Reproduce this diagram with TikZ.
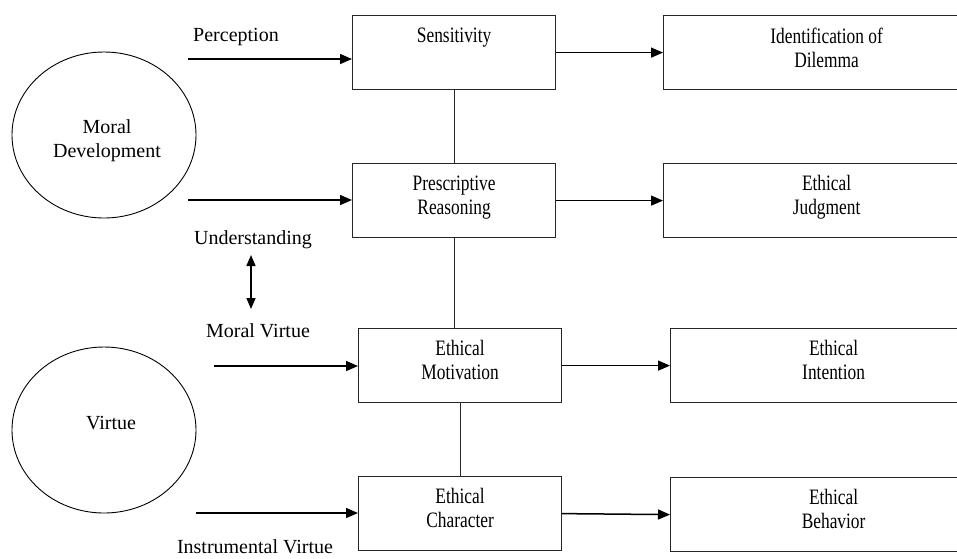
\documentclass[tikz,border=0pt]{standalone}
\usepackage{fontspec}
\setmainfont{Liberation Serif}
\newfontfamily\boxfont{Liberation Serif}[FakeStretch=0.79]
\usetikzlibrary{arrows.meta,shapes.geometric}
\newcommand{\lbox}[1]{\parbox[t][74pt][t]{203pt}{\centering\boxfont\fontsize{22pt}{24pt}\selectfont\vspace*{12pt}#1}}
\newcommand{\rbox}[1]{\parbox[t][74pt][t]{206pt}{\centering\boxfont\fontsize{22pt}{24pt}\selectfont\vspace*{12pt}#1}\hspace{120pt}}
\tikzset{
  every node/.style={font=\fontsize{20pt}{24pt}\selectfont},
  stagebox/.style={draw=black!85, line width=1.2pt, anchor=north west, inner sep=0pt, minimum width=203pt, minimum height=74pt},
  outbox/.style={draw=black!85, line width=1.2pt, anchor=north west, inner sep=0pt, minimum width=326pt, minimum height=74pt},
  oval/.style={draw, ellipse, line width=0.9pt, minimum width=184pt, minimum height=166pt, inner sep=0pt},
  lbl/.style={anchor=base, inner sep=0pt, align=center},
  arr/.style={line width=1.5pt, -{Triangle[length=12pt,width=10pt]}},
  dbl/.style={line width=1.5pt, {Triangle[length=11pt,width=9pt]}-{Triangle[length=11pt,width=9pt]}},
  link/.style={line width=1.2pt, draw=black!85}
}
\begin{document}
\begin{tikzpicture}[x=1pt,y=-1pt]
\clip (0,0) rectangle (957,558);
% ellipses
\node[oval] (md) at (104,135) {};
\node[lbl] (mdT) at (107,133) {Moral};
\node[lbl] (mdT2) at (107,157) {Development};
\node[oval] (vi) at (104,430) {};
\node[lbl] (viT) at (111,429) {Virtue};
% stage boxes
\node[stagebox] (sens) at (352,15) {\lbox{Sensitivity}};
\node[stagebox] (pres) at (352,163) {\lbox{Prescriptive\\Reasoning}};
\node[stagebox] (motiv) at (358,328) {\lbox{Ethical\\Motivation}};
\node[stagebox] (char) at (358,476) {\lbox{Ethical\\Character}};
% outcome boxes
\node[outbox] (ident) at (663,15) {\rbox{Identification of\\Dilemma}};
\node[outbox] (judg) at (663,163) {\rbox{Ethical\\Judgment}};
\node[outbox] (inten) at (670,328) {\rbox{Ethical\\Intention}};
\node[outbox] (behav) at (670,477) {\rbox{Ethical\\Behavior}};
% labels
\node[lbl] (perc) at (236,41) {Perception};
\node[lbl] (und) at (253,244) {Understanding};
\node[lbl] (mv) at (258,337) {Moral Virtue};
\node[lbl] (iv) at (255,553) {Instrumental Virtue};
% free ends
\coordinate (p1) at (188,59);
\coordinate (p2) at (188,200);
\coordinate (p3) at (214,366);
\coordinate (p4) at (196,513);
\coordinate (u1) at (251,255);
\coordinate (u2) at (251,309);
% connectors
\draw[arr] (p1) -- (p1 -| sens.west);
\draw[arr] (p2) -- (p2 -| pres.west);
\draw[arr] (p3) -- (p3 -| motiv.west);
\draw[arr] (p4) -- (p4 -| char.west);
\draw[dbl] (u1) -- (u2);
\draw[arr] (sens.east) -- (ident.west);
\draw[arr] (pres.east) -- (judg.west);
\draw[arr] (motiv.east) -- (inten.west);
\draw[arr] (char.east) -- (behav.west);
\draw[link] (sens.south) -- (pres.north);
\draw[link] (pres.south) -- (pres.south |- motiv.north);
\draw[link] (motiv.south) -- (char.north);
\end{tikzpicture}
\end{document}
